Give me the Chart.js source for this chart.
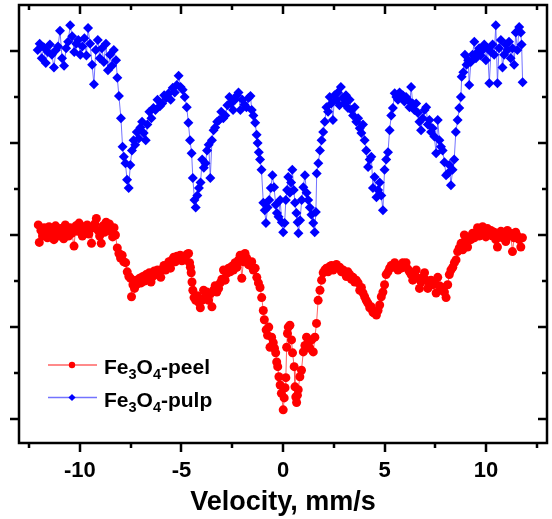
<!DOCTYPE html>
<html>
<head>
<meta charset="utf-8">
<script src="https://cdn.jsdelivr.net/npm/chart.js@4.4.1/dist/chart.umd.min.js"></script>
<style>
  html, body { margin: 0; padding: 0; background: #fff; }
  #wrap { width: 552px; height: 519px; }
</style>
</head>
<body>
<div id="wrap"><canvas id="c" width="552" height="519"></canvas></div>
<script>
// Mossbauer spectra, velocity in mm/s, relative signal (offset, arbitrary units)
const peelVelocity = [-12.05,-12.0,-11.92,-11.84,-11.76,-11.68,-11.6,-11.52,-11.44,-11.36,-11.28,-11.2,-11.12,-11.04,-10.96,-10.88,-10.8,-10.72,-10.64,-10.56,-10.48,-10.4,-10.29,-10.2,-10.12,-10.04,-9.96,-9.88,-9.8,-9.72,-9.64,-9.56,-9.48,-9.43,-9.35,-9.27,-9.19,-9.11,-9.03,-8.95,-8.87,-8.79,-8.71,-8.63,-8.55,-8.47,-8.39,-8.32,-8.25,-8.16,-8.08,-8.0,-7.92,-7.84,-7.75,-7.67,-7.59,-7.51,-7.46,-7.39,-7.31,-7.23,-7.15,-7.06,-6.98,-6.9,-6.82,-6.74,-6.66,-6.58,-6.5,-6.42,-6.34,-6.26,-6.18,-6.1,-6.02,-5.94,-5.86,-5.78,-5.7,-5.62,-5.54,-5.46,-5.38,-5.3,-5.22,-5.14,-5.06,-4.98,-4.9,-4.81,-4.73,-4.65,-4.6,-4.56,-4.52,-4.48,-4.44,-4.38,-4.3,-4.22,-4.15,-4.07,-3.99,-3.91,-3.83,-3.75,-3.67,-3.58,-3.5,-3.42,-3.34,-3.26,-3.17,-3.09,-3.01,-2.93,-2.85,-2.77,-2.68,-2.6,-2.52,-2.44,-2.36,-2.27,-2.19,-2.11,-2.03,-1.95,-1.87,-1.79,-1.7,-1.62,-1.54,-1.46,-1.37,-1.29,-1.21,-1.13,-1.05,-0.97,-0.92,-0.83,-0.76,-0.7,-0.64,-0.56,-0.48,-0.42,-0.36,-0.31,-0.26,-0.2,-0.14,-0.08,0.01,0.06,0.1,0.14,0.18,0.22,0.26,0.34,0.42,0.47,0.55,0.59,0.63,0.67,0.71,0.75,0.83,0.91,1.0,1.08,1.16,1.24,1.32,1.41,1.49,1.57,1.65,1.73,1.82,1.9,1.98,2.06,2.14,2.22,2.31,2.39,2.47,2.55,2.63,2.71,2.79,2.88,2.96,3.04,3.12,3.2,3.29,3.37,3.45,3.53,3.61,3.7,3.78,3.86,3.94,4.02,4.1,4.18,4.27,4.35,4.43,4.51,4.6,4.68,4.76,4.84,4.92,5.0,5.08,5.17,5.25,5.33,5.41,5.5,5.58,5.66,5.74,5.82,5.9,5.98,6.06,6.15,6.23,6.31,6.39,6.47,6.56,6.64,6.72,6.8,6.88,6.97,7.05,7.13,7.21,7.29,7.37,7.45,7.54,7.62,7.7,7.78,7.86,7.95,8.03,8.11,8.19,8.27,8.36,8.44,8.52,8.6,8.68,8.77,8.85,8.93,9.01,9.09,9.17,9.25,9.34,9.42,9.5,9.58,9.66,9.74,9.83,9.91,9.99,10.07,10.16,10.24,10.32,10.4,10.48,10.56,10.64,10.73,10.81,10.89,10.97,11.05,11.13,11.21,11.3,11.38,11.46,11.54,11.63,11.71,11.79];
const peelSignal = [2.11,1.92,2.05,1.99,2.08,2.02,1.97,2.09,2.01,2.05,1.95,2.10,2.03,1.99,2.07,2.01,1.96,2.11,2.04,1.99,2.08,2.02,1.88,2.10,2.04,2.13,2.05,1.99,2.09,2.03,2.11,2.01,2.07,1.91,2.08,2.12,2.18,2.05,1.99,1.91,2.10,2.03,2.14,2.07,2.12,2.04,1.98,2.08,2.00,1.86,1.80,1.75,1.78,1.71,1.70,1.60,1.55,1.53,1.33,1.46,1.42,1.51,1.47,1.53,1.48,1.55,1.50,1.57,1.52,1.59,1.49,1.55,1.61,1.57,1.62,1.59,1.54,1.63,1.67,1.62,1.66,1.71,1.64,1.73,1.76,1.71,1.77,1.74,1.78,1.72,1.76,1.73,1.79,1.80,1.70,1.65,1.59,1.49,1.40,1.32,1.29,1.34,1.27,1.21,1.29,1.40,1.33,1.38,1.29,1.36,1.22,1.40,1.45,1.38,1.42,1.48,1.52,1.62,1.51,1.58,1.64,1.60,1.66,1.62,1.70,1.65,1.73,1.78,1.53,1.71,1.80,1.75,1.68,1.67,1.71,1.62,1.64,1.54,1.48,1.43,1.32,1.18,1.08,0.97,0.91,1.00,0.78,0.89,0.83,0.77,0.72,0.62,0.57,0.46,0.37,0.28,0.10,0.23,0.34,0.45,0.78,0.93,1.00,1.02,0.86,0.72,0.57,0.35,0.24,0.18,0.26,0.32,0.46,0.53,0.73,0.80,0.89,0.83,0.77,0.86,0.73,0.89,1.04,1.29,1.40,1.51,1.59,1.62,1.64,1.60,1.66,1.67,1.62,1.66,1.68,1.64,1.65,1.60,1.62,1.59,1.55,1.60,1.57,1.52,1.54,1.49,1.51,1.48,1.40,1.43,1.37,1.33,1.29,1.26,1.21,1.22,1.16,1.15,1.13,1.18,1.24,1.33,1.38,1.46,1.57,1.60,1.64,1.67,1.65,1.70,1.66,1.62,1.67,1.64,1.70,1.66,1.70,1.63,1.60,1.57,1.51,1.57,1.62,1.53,1.42,1.49,1.54,1.59,1.51,1.42,1.47,1.51,1.46,1.49,1.37,1.54,1.45,1.40,1.43,1.38,1.32,1.46,1.57,1.62,1.65,1.70,1.73,1.82,1.86,1.91,1.84,2.00,1.95,1.87,1.98,1.95,2.02,1.97,2.02,2.08,1.99,2.04,2.09,2.02,1.98,2.07,2.01,2.05,1.99,2.03,1.95,1.87,2.00,2.04,1.97,2.02,1.93,2.05,1.99,2.02,1.82,1.97,2.03,1.99,1.95,1.87,1.97];

const pulpVelocity = [-12.08,-11.98,-11.88,-11.78,-11.68,-11.58,-11.48,-11.38,-11.28,-11.18,-11.08,-10.98,-10.88,-10.78,-10.68,-10.58,-10.48,-10.38,-10.28,-10.18,-10.08,-9.98,-9.88,-9.78,-9.68,-9.6,-9.5,-9.4,-9.31,-9.22,-9.12,-9.02,-8.92,-8.82,-8.72,-8.62,-8.52,-8.42,-8.33,-8.22,-8.16,-8.08,-7.98,-7.9,-7.84,-7.76,-7.68,-7.6,-7.52,-7.44,-7.36,-7.28,-7.2,-7.1,-7.02,-6.94,-6.86,-6.76,-6.68,-6.58,-6.48,-6.38,-6.28,-6.18,-6.06,-5.95,-5.85,-5.75,-5.63,-5.53,-5.43,-5.33,-5.23,-5.14,-5.04,-4.94,-4.84,-4.74,-4.66,-4.58,-4.5,-4.44,-4.36,-4.3,-4.22,-4.14,-4.06,-3.98,-3.9,-3.82,-3.74,-3.66,-3.58,-3.5,-3.42,-3.34,-3.24,-3.14,-3.04,-2.94,-2.84,-2.74,-2.64,-2.56,-2.46,-2.36,-2.26,-2.19,-2.1,-2.0,-1.9,-1.8,-1.7,-1.6,-1.54,-1.46,-1.37,-1.3,-1.25,-1.19,-1.13,-1.06,-0.97,-0.9,-0.84,-0.76,-0.68,-0.6,-0.52,-0.44,-0.36,-0.3,-0.22,-0.14,-0.06,0.01,0.08,0.14,0.2,0.26,0.34,0.4,0.46,0.53,0.59,0.66,0.72,0.76,0.84,0.92,1.0,1.08,1.16,1.24,1.32,1.4,1.49,1.56,1.62,1.66,1.74,1.82,1.9,1.98,2.06,2.14,2.22,2.3,2.38,2.46,2.54,2.62,2.7,2.78,2.85,2.94,3.02,3.1,3.2,3.28,3.37,3.45,3.53,3.61,3.7,3.78,3.86,3.94,4.02,4.1,4.19,4.27,4.35,4.43,4.51,4.6,4.68,4.76,4.84,4.92,5.0,5.08,5.17,5.25,5.33,5.41,5.5,5.58,5.66,5.74,5.82,5.9,5.98,6.06,6.15,6.23,6.31,6.39,6.47,6.56,6.64,6.72,6.8,6.88,6.97,7.05,7.13,7.21,7.29,7.37,7.45,7.54,7.62,7.7,7.78,7.86,7.95,8.03,8.11,8.19,8.27,8.35,8.43,8.51,8.6,8.68,8.76,8.8,8.88,8.96,9.04,9.12,9.17,9.25,9.33,9.42,9.5,9.58,9.66,9.74,9.83,9.91,9.99,10.07,10.16,10.24,10.32,10.4,10.48,10.56,10.64,10.73,10.81,10.89,10.97,11.05,11.13,11.21,11.3,11.38,11.46,11.54,11.63,11.71,11.75,11.8];
const pulpSignal = [4.01,4.08,3.92,4.04,3.87,3.99,4.07,3.96,3.82,4.01,4.05,4.22,3.92,3.84,4.03,4.10,4.28,4.16,3.99,4.08,4.12,3.96,4.05,4.14,3.95,4.25,4.08,3.85,3.64,4.01,4.12,3.92,4.03,3.88,4.08,3.79,3.96,3.84,4.01,3.90,3.71,3.51,3.27,2.96,2.85,2.78,2.60,2.51,2.76,2.92,3.03,2.98,3.12,3.05,3.17,3.23,3.11,3.03,3.20,3.34,3.27,3.38,3.36,3.47,3.40,3.43,3.52,3.49,3.54,3.47,3.60,3.55,3.63,3.73,3.61,3.58,3.50,3.39,3.22,3.03,2.89,2.62,2.38,2.30,2.43,2.51,2.57,2.82,2.73,2.78,2.92,2.98,2.62,3.03,3.14,3.17,3.23,3.25,3.34,3.27,3.30,3.41,3.50,3.43,3.36,3.47,3.52,3.55,3.36,3.47,3.42,3.39,3.49,3.51,3.36,3.30,3.22,3.09,3.00,2.90,2.82,2.71,2.35,2.27,2.13,2.30,2.38,2.51,2.65,2.52,2.33,2.24,2.20,2.38,2.14,2.03,2.13,2.38,2.49,2.63,2.46,2.57,2.71,2.49,2.35,2.24,2.14,2.02,2.16,2.38,2.52,2.65,2.46,2.38,2.30,2.22,2.13,2.03,2.25,2.67,2.78,2.92,3.03,3.12,3.23,3.39,3.34,3.50,3.43,3.25,3.52,3.47,3.55,3.41,3.61,3.49,3.43,3.52,3.38,3.47,3.36,3.30,3.39,3.23,3.27,3.16,3.11,3.20,3.03,2.92,2.74,2.82,2.85,2.51,2.63,2.41,2.49,2.57,2.43,2.27,2.71,2.82,2.90,3.14,3.30,3.38,3.54,3.50,3.47,3.55,3.50,3.52,3.45,3.50,3.47,3.39,3.61,3.43,3.36,3.43,3.33,3.23,3.14,3.27,3.36,3.39,3.20,3.25,3.12,3.16,3.07,2.89,3.25,3.03,2.96,2.92,2.79,2.65,2.67,2.76,2.54,2.71,2.82,3.12,3.25,3.38,3.50,3.72,3.77,3.96,3.85,3.90,3.63,3.88,3.96,4.10,3.92,3.99,4.03,3.95,4.01,4.07,3.90,4.03,3.65,3.99,4.07,3.96,4.28,3.65,4.03,4.12,3.82,3.96,4.07,4.01,4.10,3.92,4.03,3.85,4.20,4.01,4.26,4.20,4.07,3.66];

const seriesNames = ['Fe3O4-peel', 'Fe3O4-pulp'];
const xMajorTicks = [-10, -5, 0, 5, 10];
const xMinorTicks = [-12.5, -7.5, -2.5, 2.5, 7.5, 12.5];
const yMajorTicks = [0, 1, 2, 3, 4];
const yMinorTicks = [0.5, 1.5, 2.5, 3.5];

const FONT = "'Liberation Sans', Arial, Helvetica, sans-serif";

const toPoints = (xs, ys) => xs.map((v, i) => ({ x: v, y: ys[i] }));

const frameAndLegend = {
  id: 'frameAndLegend',
  afterDraw(chart) {
    const { ctx, chartArea: a, scales: { x, y } } = chart;
    ctx.save();
    ctx.strokeStyle = '#000';
    ctx.lineWidth = 2.5;
    ctx.strokeRect(a.left, a.top, a.right - a.left, a.bottom - a.top);

    ctx.beginPath();
    const xt = (v, len) => {
      const p = Math.round(x.getPixelForValue(v));
      ctx.moveTo(p, a.bottom); ctx.lineTo(p, a.bottom + len);
      ctx.moveTo(p, a.top); ctx.lineTo(p, a.top + len);
    };
    const yt = (v, len) => {
      const p = Math.round(y.getPixelForValue(v));
      ctx.moveTo(a.left, p); ctx.lineTo(a.left - len, p);
      ctx.moveTo(a.right, p); ctx.lineTo(a.right - len, p);
    };
    xMajorTicks.forEach(v => xt(v, 9));
    xMinorTicks.forEach(v => xt(v, 5));
    yMajorTicks.forEach(v => yt(v, 9));
    yMinorTicks.forEach(v => yt(v, 5));
    ctx.stroke();

    // legend
    const rows = [
      { name: seriesNames[0], line: 'rgba(255,70,70,0.85)', fill: '#ff0000', style: 'circle', y: 365 },
      { name: seriesNames[1], line: 'rgba(80,80,255,0.8)', fill: '#0000ff', style: 'diamond', y: 397.5 }
    ];
    rows.forEach(r => {
      ctx.strokeStyle = r.line;
      ctx.lineWidth = 1.5;
      ctx.beginPath();
      ctx.moveTo(48, r.y); ctx.lineTo(97, r.y);
      ctx.stroke();
      ctx.fillStyle = r.fill;
      ctx.beginPath();
      if (r.style === 'circle') {
        ctx.arc(72, r.y, 3.2, 0, Math.PI * 2);
      } else {
        ctx.moveTo(72, r.y - 3.6); ctx.lineTo(75.6, r.y);
        ctx.lineTo(72, r.y + 3.6); ctx.lineTo(68.4, r.y);
        ctx.closePath();
      }
      ctx.fill();

      // text with subscript digits
      ctx.fillStyle = '#000';
      ctx.textBaseline = 'alphabetic';
      ctx.textAlign = 'left';
      let tx = 104;
      const base = r.y + 9.3;
      r.name.split(/(\d)/).filter(s => s.length).forEach(part => {
        if (/^\d$/.test(part)) {
          ctx.font = 'bold 14.5px ' + FONT;
          ctx.fillText(part, tx, base + 5);
        } else {
          ctx.font = 'bold 21px ' + FONT;
          ctx.fillText(part, tx, base);
        }
        tx += ctx.measureText(part).width;
      });
    });
    ctx.restore();
  }
};

new Chart(document.getElementById('c'), {
  type: 'line',
  data: {
    datasets: [
      {
        label: seriesNames[0],
        data: toPoints(peelVelocity, peelSignal),
        borderColor: 'rgba(255,70,70,0.85)',
        borderWidth: 1,
        backgroundColor: '#ff0000',
        pointStyle: 'circle',
        pointRadius: 4.5,
        pointBorderWidth: 0,
        pointBackgroundColor: '#ff0000',
        tension: 0
      },
      {
        label: seriesNames[1],
        data: toPoints(pulpVelocity, pulpSignal),
        borderColor: 'rgba(80,80,255,0.8)',
        borderWidth: 1,
        backgroundColor: '#0000ff',
        pointStyle: 'rectRot',
        pointRadius: 5,
        pointBorderWidth: 0,
        pointBackgroundColor: '#0000ff',
        tension: 0
      }
    ]
  },
  options: {
    responsive: false,
    animation: false,
    devicePixelRatio: 1,
    layout: { padding: { top: 5, right: 3, left: 0, bottom: 0 } },
    plugins: { legend: { display: false }, tooltip: { enabled: false } },
    scales: {
      x: {
        type: 'linear',
        min: -13,
        max: 13,
        grid: { display: false, drawTicks: false },
        border: { display: false },
        afterBuildTicks: s => { s.ticks = xMajorTicks.map(v => ({ value: v })); },
        afterFit: s => { s.height = 76; },
        ticks: {
          padding: 15,
          color: '#000',
          font: { family: FONT, size: 22, weight: 'bold' },
          maxRotation: 0,
          autoSkip: false
        },
        title: {
          display: true,
          text: 'Velocity, mm/s',
          color: '#000',
          font: { family: FONT, size: 27, weight: 'bold' },
          padding: { top: 0, bottom: 0 }
        }
      },
      y: {
        type: 'linear',
        min: -0.26,
        max: 4.5,
        grid: { display: false, drawTicks: false },
        border: { display: false },
        ticks: { display: false },
        afterFit: s => { s.width = 19; }
      }
    }
  },
  plugins: [frameAndLegend]
});
</script>
</body>
</html>
